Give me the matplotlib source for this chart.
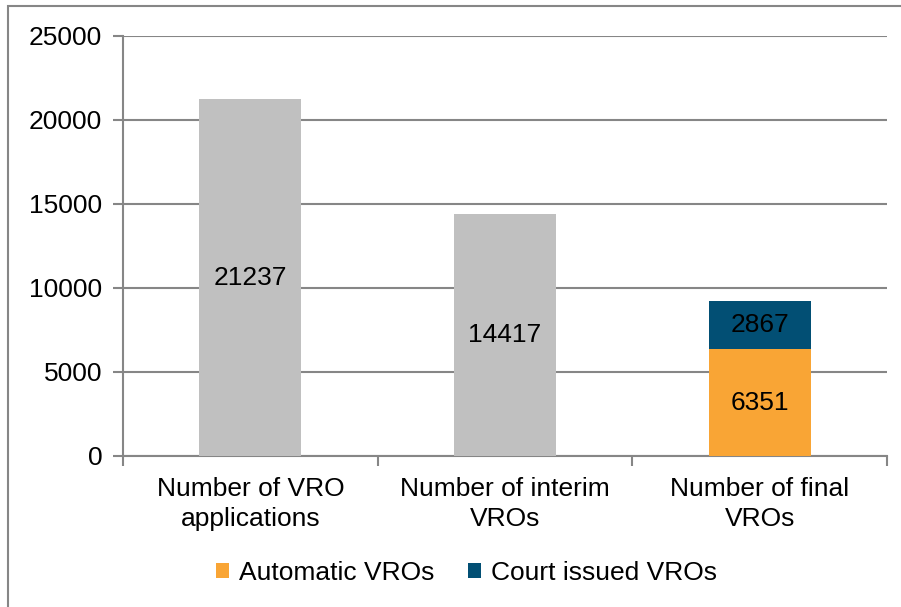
import matplotlib.pyplot as plt
from matplotlib.patches import Rectangle

# Datos del grafico
categorias = ["Number of VRO\napplications", "Number of interim\nVROs", "Number of final\nVROs"]
valores_gris = [21237, 14417, 0]
automatic = [0, 0, 6351]
court = [0, 0, 2867]
yticks = [0, 5000, 10000, 15000, 20000, 25000]

plt.rcParams["font.family"] = ["Liberation Sans", "DejaVu Sans"]
GRID = "#868686"

fig = plt.figure(figsize=(9.01, 6.07), dpi=100)
ax = fig.add_axes([0.1365, 0.2488, 0.848, 0.692])

# marco exterior del grafico (recortado por la imagen)
fig.patches.append(Rectangle((8 / 901, -0.2), 1.2, 1.19, transform=fig.transFigure,
                             fill=False, edgecolor=GRID, linewidth=1.5))

x = list(range(len(categorias)))
w = 0.4
ax.bar(x[:2], valores_gris[:2], width=w, color="#C0C0C0", zorder=3)
ax.bar(x[2], automatic[2], width=w, color="#F9A535", zorder=3, label="Automatic VROs")
ax.bar(x[2], court[2], width=w, bottom=automatic[2], color="#024F74", zorder=3,
       label="Court issued VROs")

for i in range(2):
    ax.text(x[i], valores_gris[i] / 2, str(valores_gris[i]), ha="center", va="center",
            fontsize=19, zorder=4)
ax.text(x[2], automatic[2] / 2, str(automatic[2]), ha="center", va="center", fontsize=19, zorder=4)
ax.text(x[2], automatic[2] + court[2] / 2, str(court[2]), ha="center", va="center",
        fontsize=19, zorder=4)

ax.set_xlim(-0.5, 2.5)
ax.set_ylim(0, 25000)
ax.set_yticks(yticks)
ax.set_yticklabels([str(v) for v in yticks], fontsize=19)
ax.yaxis.grid(True, color=GRID, linewidth=1.5, zorder=0)

# ticks del eje x en los limites de categoria
ax.set_xticks([-0.5, 0.5, 1.5, 2.5])
ax.set_xticklabels([])
ax.set_xticks(x, minor=True)
ax.set_xticklabels(categorias, minor=True, fontsize=19, linespacing=1.33)
ax.tick_params(axis="x", which="minor", length=0, pad=15)
ax.tick_params(axis="x", which="major", length=7, width=1.5, color=GRID)
ax.tick_params(axis="y", length=7, width=1.5, color=GRID, pad=8)

for s in ["top", "right"]:
    ax.spines[s].set_visible(False)
ax.spines["left"].set_color(GRID)
ax.spines["left"].set_linewidth(1.5)
ax.spines["bottom"].set_color(GRID)
ax.spines["bottom"].set_linewidth(1.5)

fig.legend(loc="center", bbox_to_anchor=(0.5176, 0.056), ncol=2, frameon=False,
           fontsize=19, handlelength=0.5, handleheight=0.5, handletextpad=0.35,
           columnspacing=1.3)

fig.savefig("out.png", dpi=100)
